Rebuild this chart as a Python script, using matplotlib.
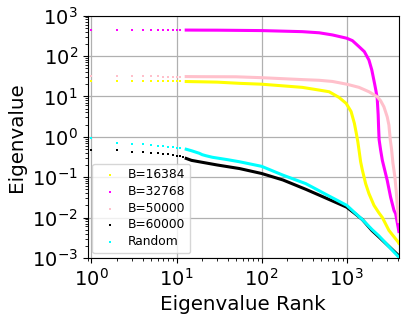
import numpy as np
import matplotlib
matplotlib.use("Agg")
import matplotlib.pyplot as plt

# first ten eigenvalues (shown as separate dots)
head_rank = [1, 2, 3, 4, 5, 6, 7, 8, 9, 10]
b16384_head = [24.5, 24.3, 24.2, 24.1, 24.0, 23.9, 23.8, 23.7, 23.6, 23.5]
b32768_head = [445, 443, 442, 441, 441, 440, 440, 440, 439, 439]
b50000_head = [31.5, 31.4, 31.3, 31.2, 31.1, 31.1, 31.0, 31.0, 30.9, 30.9]
b60000_head = [0.48, 0.457, 0.42, 0.415, 0.39, 0.385, 0.377, 0.37, 0.356, 0.343]
random_head = [0.91, 0.69, 0.67, 0.645, 0.63, 0.59, 0.585, 0.56, 0.55, 0.54]

b16384_rank = [11, 13, 16, 20, 30, 55, 100, 300, 474, 621, 812, 984, 1125, 1230, 1297, 1350,
               1393, 1456, 1525, 1667, 1824, 2090, 2390, 2620, 3130, 4000, 4096]
b16384_val = [23.4, 23.3, 23.1, 22.9, 22.5, 21, 20, 16.7, 14.3, 13.0, 9.4, 6.7, 4.2, 2.14, 1.2, 0.75,
              0.47, 0.24, 0.15, 0.069, 0.039, 0.020, 0.013, 0.010, 0.0048, 0.0025, 0.0023]

b32768_rank = [11, 13, 16, 20, 30, 100, 300, 474, 678, 1000, 1165, 1394, 1610, 1824, 1970, 2120, 2200,
               2280, 2340, 2370, 2400, 2500, 2620, 2735, 2990, 3275, 3590, 3750, 4000, 4096]
b32768_val = [439, 438, 437, 436, 435, 425, 400, 375, 332, 275, 240, 170, 128, 79, 45, 21, 14,
              9.0, 3.5, 1.6, 0.85, 0.47, 0.26, 0.18, 0.083, 0.032, 0.015, 0.0125, 0.006, 0.0045]

b50000_rank = [11, 13, 16, 20, 50, 100, 300, 474, 678, 1000, 1394, 1824, 2280, 2500, 2735, 2990,
               3130, 3250, 3370, 3490, 3680, 3820, 3940, 4096]
b50000_val = [30.9, 30.9, 30.8, 30.7, 30.5, 29, 26, 25, 23.4, 20, 16.7, 13, 9.8, 7.8, 5.5, 3.1,
              1.94, 0.83, 0.47, 0.22, 0.10, 0.043, 0.018, 0.008]

b60000_rank = [11, 12, 13, 15, 18.5, 30, 55, 100, 178, 330, 575, 1000, 1250, 1525, 1970, 2390, 4000, 4096]
b60000_val = [0.33, 0.31, 0.29, 0.26, 0.24, 0.20, 0.163, 0.123, 0.085, 0.05, 0.03, 0.018, 0.0125,
              0.0089, 0.0048, 0.0033, 0.00118, 0.00112]

random_rank = [11, 13, 15, 18.5, 20, 22, 26.4, 40, 55, 100, 178, 330, 575, 1000, 1250, 1525, 1970,
               2390, 4000, 4096]
random_val = [0.52, 0.49, 0.45, 0.39, 0.36, 0.34, 0.31, 0.27, 0.24, 0.185, 0.112, 0.069, 0.037, 0.020,
              0.013, 0.0089, 0.0051, 0.0035, 0.0011, 0.00105]

series = [
    ("B=16384", "yellow", b16384_head, b16384_rank, b16384_val),
    ("B=32768", "magenta", b32768_head, b32768_rank, b32768_val),
    ("B=50000", "pink", b50000_head, b50000_rank, b50000_val),
    ("B=60000", "black", b60000_head, b60000_rank, b60000_val),
    ("Random", "cyan", random_head, random_rank, random_val),
]

fig = plt.figure(figsize=(4.07, 3.18), dpi=100)
ax = fig.add_axes([0.215, 0.189, 0.765, 0.762])

for label, color, head, rank, val in series:
    rank = np.asarray(rank)
    val = np.asarray(val)
    sparse = rank < 16
    ax.scatter(list(head_rank) + list(rank[sparse]), list(head) + list(val[sparse]),
               s=3, color=color, marker="s", linewidths=0, label=label, zorder=3)
    ax.plot(rank[rank >= 13], val[rank >= 13], color=color, lw=2.2, zorder=3,
            solid_joinstyle="round")

ax.set_xscale("log")
ax.set_yscale("log")
ax.set_xlim(0.9, 4096)
ax.set_ylim(1e-3, 1e3)
ax.grid(True, which="major", color="#b0b0b0", lw=0.9)
ax.tick_params(labelsize=14)
ax.set_xlabel("Eigenvalue Rank", fontsize=14.3)
ax.set_ylabel("Eigenvalue", fontsize=14.3)
ax.legend(loc="lower left", fontsize=8.8, labelspacing=0.3, markerscale=1.2,
          handletextpad=0.5, borderaxespad=0.4)

fig.savefig("out.png", dpi=100)
